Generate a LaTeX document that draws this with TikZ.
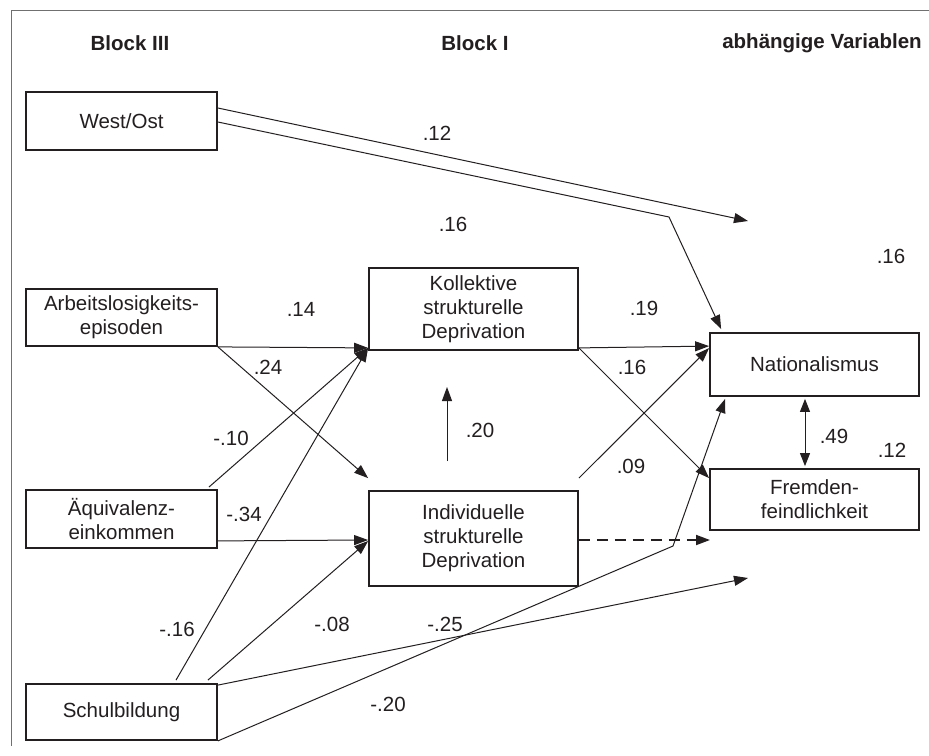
\documentclass[tikz,border=0pt]{standalone}
\usepackage{fontspec}
\setmainfont{Liberation Sans}
\usetikzlibrary{arrows.meta,calc}
\newcommand\diagfont{\fontsize{20.5}{24}\selectfont}
\definecolor{framegray}{HTML}{707070}
\definecolor{ink}{HTML}{231F20}
\begin{document}
\begin{tikzpicture}[x=1pt,y=-1pt,
  box/.style={draw=ink, line width=1.8pt, inner sep=0pt, align=center, font=\diagfont, text=ink},
  leftbox/.style={box, minimum width=191pt},
  midbox/.style={box, minimum width=209pt},
  rightbox/.style={box, minimum width=209pt},
  conn/.style={draw=ink, line width=1pt, -{Triangle[length=14pt,width=10pt]}},
  dashconn/.style={draw=ink, line width=1.8pt, dash pattern=on 11pt off 7pt, -{Triangle[length=14pt,width=10pt]}},
  dblconn/.style={draw=ink, line width=1pt, {Triangle[length=13pt,width=10pt]}-{Triangle[length=13pt,width=10pt]}},
  lbl/.style={inner sep=0pt, font=\diagfont, text=ink},
  head/.style={inner sep=0pt, font=\diagfont\bfseries, text=ink}]
\useasboundingbox (0,0) rectangle (929,755);
\fill[white] (0,0) rectangle (929,755);
\draw[framegray, line width=1pt] (929,10) -- (11,10) -- (11,746);

% headers
\node[head] (h3) at (130,43) {Block III};
\node[head] (h1) at (475,43) {Block I};
\node[head] (hv) at (822,43) {abhängige Variablen};

% boxes
\node[leftbox, minimum height=58pt] (westost) at (121.5,121) {West/Ost};
\node[leftbox, minimum height=57pt] (arbeit) at (121.5,317.5) {Arbeitslosigkeits-\\episoden};
\node[leftbox, minimum height=58pt] (aequi) at (121.5,519) {Äquivalenz-\\einkommen};
\node[leftbox, minimum height=56pt] (schul) at (121.5,712) {Schulbildung};
\node[midbox, minimum height=82pt] (koll) at (473.5,309) {Kollektive\\strukturelle\\Deprivation};
\node[midbox, minimum height=95pt] (indiv) at (473.5,538.5) {Individuelle\\strukturelle\\Deprivation};
\node[rightbox, minimum height=63pt] (nat) at (814.5,364.5) {Nationalismus};
\node[rightbox, minimum height=61pt] (fremd) at (814.5,499.5) {Fremden-\\feindlichkeit};

% free ends and bends
\coordinate (wfree) at (748,221);
\coordinate (wbend) at (669,217);
\coordinate (sfree) at (748,578);
\coordinate (sbend) at (673,546);
\coordinate (dfree) at (710,540);
\coordinate (vlow) at (447,461);
\coordinate (vhigh) at (447,387);

% connectors
\draw[conn] ($(westost.east)+(0,-13)$) -- (wfree);
\draw[conn] ($(westost.east)+(0,1)$) -- (wbend) -- ($(nat.north west)+(12,-3)$);
\draw[conn] (arbeit.south east) -- ([yshift=3pt]koll.south west);
\draw[conn] (arbeit.south east) -- ($(indiv.north west)+(0,-12)$);
\draw[conn] ($(aequi.north east)+(-9,-2)$) -- ([yshift=3pt]koll.south west);
\draw[conn] ($(aequi.south east)+(0,-8)$) -- ($(indiv.west)+(0,1.5)$);
\draw[conn] ($(schul.north)+(54.5,-3)$) -- ([yshift=3pt]koll.south west);
\draw[conn] ($(schul.north east)+(-10,-3)$) -- ($(indiv.west)+(0,2.5)$);
\draw[conn] ($(schul.north east)+(0,2)$) -- (sfree);
\draw[conn] (schul.south east) -- (sbend) -- ($(nat.south west)+(16,2)$);
\draw[conn] (vlow) -- (vhigh);
\draw[conn] ([yshift=3pt]koll.south east) -- ($(nat.north west)+(0,14)$);
\draw[conn] ([yshift=3pt]koll.south east) -- ($(fremd.north west)+(0,10)$);
\draw[conn] ($(indiv.north east)+(0,-12)$) -- ($(nat.north west)+(0,16)$);
\draw[dashconn] ($(indiv.east)+(0,1.5)$) -- (dfree);
\draw[dblconn] ($(nat.south)+(-9.5,2)$) -- ($(fremd.north)+(-9.5,-2)$);

% labels
\node[lbl] (l12a) at (437,133) {.12};
\node[lbl] (l16a) at (453,224) {.16};
\node[lbl] (l14) at (301,309) {.14};
\node[lbl] (l24) at (268,367) {.24};
\node[lbl] (l10) at (231,438) {-.10};
\node[lbl] (l34) at (244,514) {-.34};
\node[lbl] (l16b) at (177,629) {-.16};
\node[lbl] (l08) at (332,624) {-.08};
\node[lbl] (l25) at (445,624) {-.25};
\node[lbl] (l20a) at (388,704) {-.20};
\node[lbl] (l20b) at (480,430) {.20};
\node[lbl] (l19) at (644,308) {.19};
\node[lbl] (l16c) at (632,367) {.16};
\node[lbl] (l09) at (631,466) {.09};
\node[lbl] (l16d) at (891,256) {.16};
\node[lbl] (l49) at (834,436) {.49};
\node[lbl] (l12b) at (892,450) {.12};
\end{tikzpicture}
\end{document}
